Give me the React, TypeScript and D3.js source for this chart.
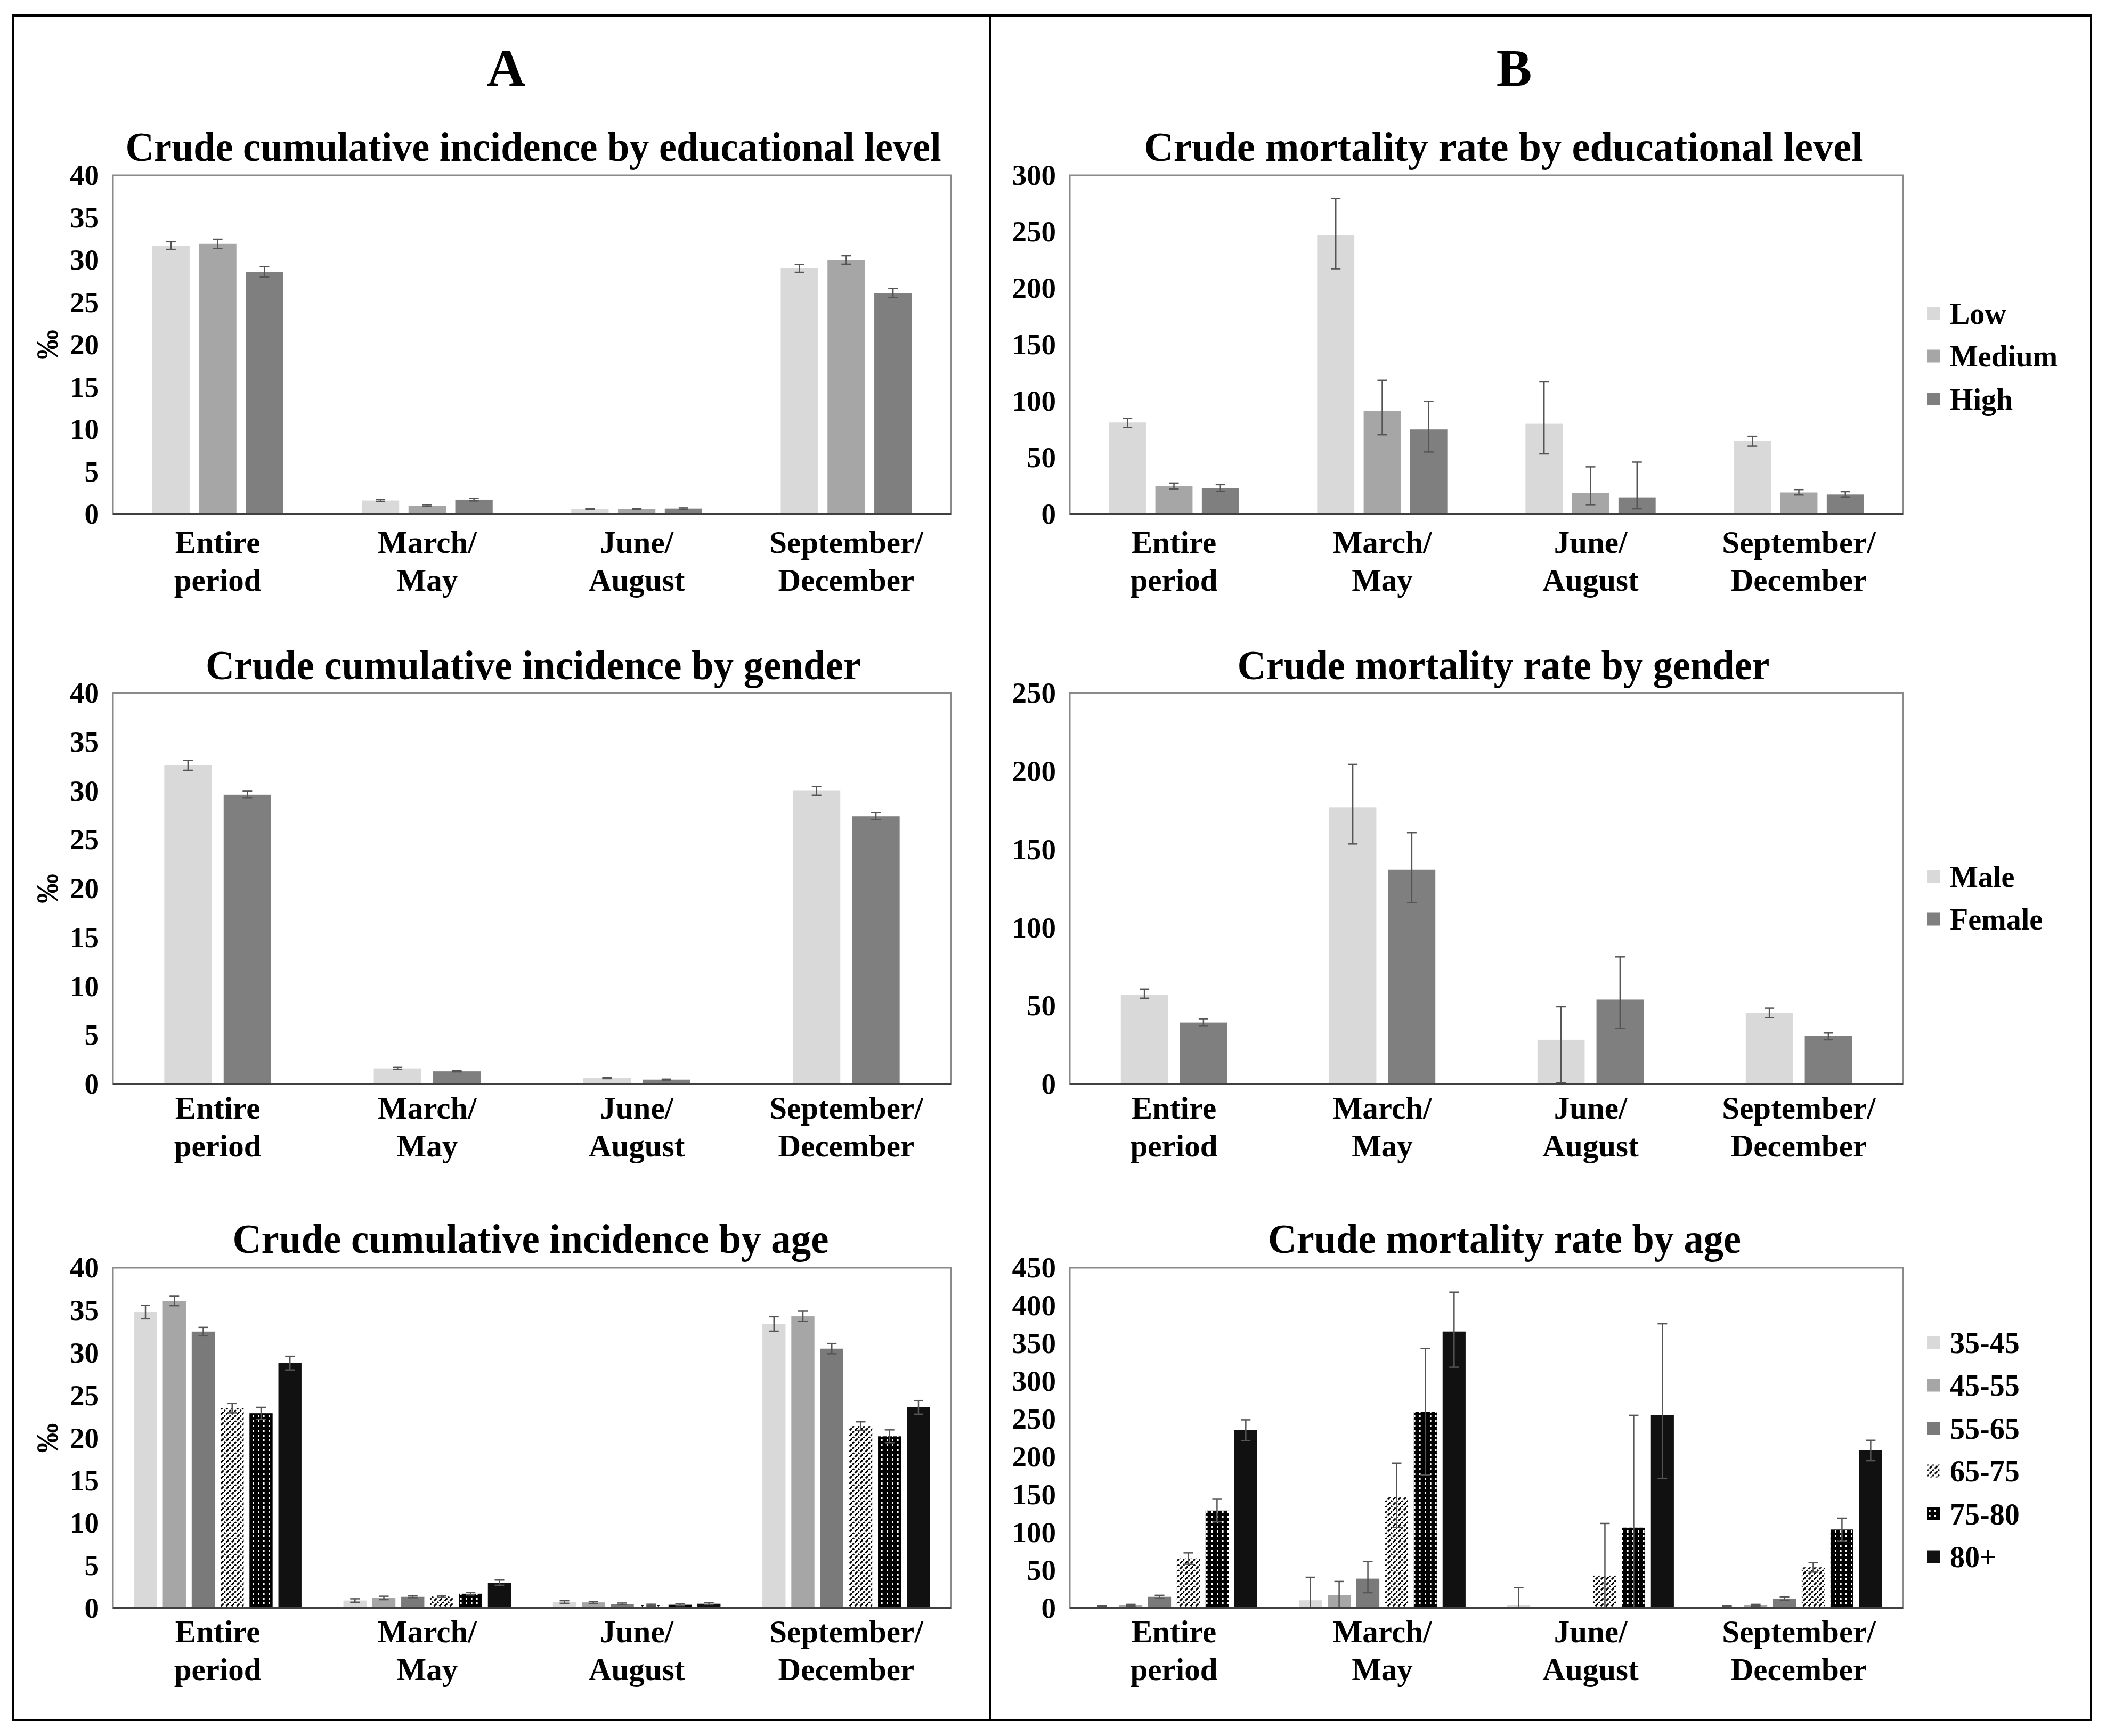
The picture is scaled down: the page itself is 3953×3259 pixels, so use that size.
import React from 'react';
import * as d3 from 'd3';

// x categories, two text lines each
const periods = [
  ['Entire', 'period'],
  ['March/', 'May'],
  ['June/', 'August'],
  ['September/', 'December'],
];

const eduLevels = ['Low', 'Medium', 'High'];
const genders = ['Male', 'Female'];
const ageGroups = ['35-45', '45-55', '55-65', '65-75', '75-80', '80+'];

// A: crude cumulative incidence (‰), symmetric error
const incEduValues = [
  [31.7, 1.6, 0.6, 29.0],
  [31.9, 1.0, 0.6, 30.0],
  [28.6, 1.7, 0.65, 26.1],
];
const incEduErr = [
  [0.45, 0.1, 0.05, 0.45],
  [0.55, 0.1, 0.05, 0.5],
  [0.6, 0.15, 0.08, 0.55],
];

const incGenderValues = [
  [32.6, 1.6, 0.6, 30.0],
  [29.6, 1.3, 0.45, 27.4],
];
const incGenderErr = [
  [0.5, 0.1, 0.05, 0.45],
  [0.35, 0.05, 0.05, 0.35],
];

const incAgeValues = [
  [34.8, 0.9, 0.72, 33.4],
  [36.1, 1.2, 0.68, 34.3],
  [32.5, 1.33, 0.5, 30.5],
  [23.5, 1.37, 0.36, 21.4],
  [22.9, 1.7, 0.4, 20.2],
  [28.8, 3.0, 0.52, 23.6],
];
const incAgeErr = [
  [0.8, 0.2, 0.15, 0.85],
  [0.55, 0.2, 0.12, 0.6],
  [0.5, 0.1, 0.1, 0.6],
  [0.55, 0.1, 0.1, 0.5],
  [0.7, 0.15, 0.1, 0.75],
  [0.8, 0.3, 0.12, 0.8],
];

// B: crude mortality rate, lower / upper error limits
const mortEduValues = [
  [81, 246.7, 79.9, 64.8],
  [24.8, 91.5, 18.7, 19.1],
  [23, 74.9, 14.8, 17.3],
];
const mortEduLow = [
  [76.7, 217.2, 53.3, 60.1],
  [22.3, 70.2, 8.3, 16.9],
  [20.2, 55, 4.7, 14.8],
];
const mortEduHigh = [
  [84.6, 279.5, 117, 68.8],
  [27.4, 118.5, 41.8, 21.6],
  [26, 99.7, 46, 19.8],
];

const mortGenderValues = [
  [57, 177, 28.3, 45.3],
  [39.3, 137, 54, 30.7],
];
const mortGenderLow = [
  [54.9, 153.5, 0.7, 42.5],
  [37, 116, 35.5, 28.3],
];
const mortGenderHigh = [
  [60.7, 204.4, 49.4, 48.5],
  [41.7, 160.7, 81.3, 32.6],
];

const mortAgeValues = [
  [2, 10.4, 3.6, 2],
  [4, 17.2, 0, 4],
  [15, 39, 0, 12.7],
  [65.7, 146.4, 43, 54],
  [129, 259.7, 106.5, 104],
  [235.6, 365.7, 255, 209],
];
const mortAgeLow = [
  [1, 0, 0, 1],
  [3, 0, 0, 3],
  [13, 20.4, 0, 10.5],
  [58, 106.5, 0, 47.6],
  [114, 176, 0, 89],
  [221.6, 318.6, 171.7, 195],
];
const mortAgeHigh = [
  [3, 40.8, 27.2, 3],
  [5, 35.3, 0, 5],
  [17, 61.6, 0, 15],
  [73, 191.7, 112, 60],
  [144, 343.5, 255, 119],
  [249, 417.8, 376, 222],
];

const FONT = '"Liberation Serif", "Times New Roman", serif';

const fills2 = ['#d9d9d9', '#7f7f7f'];
const fills3 = ['#d9d9d9', '#a6a6a6', '#7f7f7f'];
const fills6 = ['#d9d9d9', '#a6a6a6', '#7a7a7a', 'url(#diag)', 'url(#grid)', '#111111'];

// share of the group band taken by a cluster of n bars
const spanFrac: Record<number, number> = { 2: 0.51, 3: 0.625, 6: 0.8 };

interface Series {
  name: string;
  fill: string;
  values: number[];
  lo: number[];
  hi: number[];
}

interface PanelProps {
  left: number;
  right: number;
  top: number;
  bottom: number;
  yMax: number;
  step: number;
  title: string;
  titleX: number;
  titleY: number;
  titleLen: number;
  labelDy: number;
  series: Series[];
  permille?: boolean;
  legendY?: number;
}

const symmetric = (names: string[], fills: string[], vals: number[][], err: number[][]): Series[] =>
  names.map((name, i) => ({
    name,
    fill: fills[i],
    values: vals[i],
    lo: vals[i].map((v, j) => v - err[i][j]),
    hi: vals[i].map((v, j) => v + err[i][j]),
  }));

const limits = (names: string[], fills: string[], vals: number[][], lo: number[][], hi: number[][]): Series[] =>
  names.map((name, i) => ({ name, fill: fills[i], values: vals[i], lo: lo[i], hi: hi[i] }));

const Panel: React.FC<PanelProps> = (p) => {
  const x = d3.scaleBand<number>().domain(d3.range(periods.length)).range([p.left, p.right]);
  const n = p.series.length;
  const span = x.bandwidth() * spanFrac[n];
  const xi = d3.scaleBand<number>().domain(d3.range(n)).range([-span / 2, span / 2]).paddingInner(0.2);
  const y = d3.scaleLinear().domain([0, p.yMax]).range([p.bottom, p.top]);
  const ticks = d3.range(0, p.yMax + p.step / 2, p.step);
  const cap = 9;

  return (
    <g fontFamily={FONT} fontWeight="bold">
      <text x={p.titleX} y={p.titleY} fontSize={78} textAnchor="middle"
        textLength={p.titleLen} lengthAdjust="spacingAndGlyphs">{p.title}</text>

      <rect x={p.left} y={p.top} width={p.right - p.left} height={p.bottom - p.top}
        fill="#fff" stroke="#8a8a8a" strokeWidth={3} />

      {p.series.map((s, si) => (
        <g key={s.name}>
          {s.values.map((v, ci) => (
            <rect key={ci} x={x(ci)! + x.bandwidth() / 2 + xi(si)!} y={y(v)}
              width={xi.bandwidth()} height={y(0) - y(v)} fill={s.fill} />
          ))}
        </g>
      ))}

      {p.series.map((s, si) => (
        <g key={s.name} stroke="#555" strokeWidth={2.5}>
          {s.values.map((v, ci) => {
            if (s.hi[ci] === s.lo[ci]) return null;
            const cx = x(ci)! + x.bandwidth() / 2 + xi(si)! + xi.bandwidth() / 2;
            return (
              <g key={ci}>
                <line x1={cx} x2={cx} y1={y(s.hi[ci])} y2={y(s.lo[ci])} />
                <line x1={cx - cap} x2={cx + cap} y1={y(s.hi[ci])} y2={y(s.hi[ci])} />
                <line x1={cx - cap} x2={cx + cap} y1={y(s.lo[ci])} y2={y(s.lo[ci])} />
              </g>
            );
          })}
        </g>
      ))}

      <line x1={p.left} x2={p.right} y1={y(0)} y2={y(0)} stroke="#404040" strokeWidth={4} />

      {ticks.map((t) => (
        <text key={t} x={p.left - 26} y={y(t)} dy="0.33em" fontSize={55} textAnchor="end">{t}</text>
      ))}

      {periods.map((lines, ci) => (
        <text key={ci} x={x(ci)! + x.bandwidth() / 2} y={p.bottom + p.labelDy} fontSize={59} textAnchor="middle">
          <tspan x={x(ci)! + x.bandwidth() / 2}>{lines[0]}</tspan>
          <tspan x={x(ci)! + x.bandwidth() / 2} dy={71}>{lines[1]}</tspan>
        </text>
      ))}

      {p.permille && (
        <text transform={`translate(${p.left - 122},${(p.top + p.bottom) / 2}) rotate(-90)`}
          fontSize={56} textAnchor="middle" dy="0.33em">‰</text>
      )}

      {p.legendY !== undefined && p.series.map((s, si) => (
        <g key={s.name} transform={`translate(${p.right + 45},${p.legendY! + si * 80.5})`}>
          <rect x={0} y={-12} width={25} height={24} fill={s.fill} />
          <text x={43} y={0} dy="0.35em" fontSize={56}>{s.name}</text>
        </g>
      ))}
    </g>
  );
};

const App: React.FC = () => {
  const W = 3953;
  const H = 3259;
  const colA = { left: 212, right: 1785, titleX: 1001 };
  const colB = { left: 2008, right: 3572, titleX: 2822 };
  const rows = [
    { top: 329, bottom: 965, titleY: 302, labelDy: 73 },
    { top: 1301, bottom: 2035, titleY: 1275, labelDy: 65 },
    { top: 2380, bottom: 3019, titleY: 2352, labelDy: 64 },
  ];

  return (
    <svg width={W} height={H} viewBox={`0 0 ${W} ${H}`}
      style={{ position: 'absolute', left: 0, top: 0, background: '#fff', display: 'block' }}>
      <defs>
        <pattern id="diag" width={10} height={10} patternUnits="userSpaceOnUse">
          <rect width={10} height={10} fill="#fff" />
          <path d="M-2,12 L12,-2" stroke="#000" strokeWidth={3.2} strokeDasharray="7 2.5" />
        </pattern>
        <pattern id="grid" width={10} height={9} patternUnits="userSpaceOnUse">
          <rect width={10} height={9} fill="#000" />
          <rect x={4} y={2} width={2.6} height={4} fill="#fff" />
        </pattern>
      </defs>

      <rect x={25} y={29} width={3900} height={3200} fill="none" stroke="#000" strokeWidth={4} />
      <line x1={1858} x2={1858} y1={29} y2={3229} stroke="#000" strokeWidth={4} />

      <text x={950} y={161} fontFamily={FONT} fontWeight="bold" fontSize={100} textAnchor="middle">A</text>
      <text x={2842} y={161} fontFamily={FONT} fontWeight="bold" fontSize={100} textAnchor="middle">B</text>

      <Panel {...colA} {...rows[0]} yMax={40} step={5} permille titleLen={1531}
        title="Crude cumulative incidence by educational level"
        series={symmetric(eduLevels, fills3, incEduValues, incEduErr)} />
      <Panel {...colA} {...rows[1]} yMax={40} step={5} permille titleLen={1230}
        title="Crude cumulative incidence by gender"
        series={symmetric(genders, fills2, incGenderValues, incGenderErr)} />
      <Panel {...colA} {...rows[2]} yMax={40} step={5} permille titleLen={1119} titleX={996}
        title="Crude cumulative incidence by age"
        series={symmetric(ageGroups, fills6, incAgeValues, incAgeErr)} />

      <Panel {...colB} {...rows[0]} yMax={300} step={50} titleLen={1349} legendY={588}
        title="Crude mortality rate by educational level"
        series={limits(eduLevels, fills3, mortEduValues, mortEduLow, mortEduHigh)} />
      <Panel {...colB} {...rows[1]} yMax={250} step={50} titleLen={999} legendY={1645}
        title="Crude mortality rate by gender"
        series={limits(genders, fills2, mortGenderValues, mortGenderLow, mortGenderHigh)} />
      <Panel {...colB} {...rows[2]} yMax={450} step={50} titleLen={888} titleX={2824} legendY={2520}
        title="Crude mortality rate by age"
        series={limits(ageGroups, fills6, mortAgeValues, mortAgeLow, mortAgeHigh)} />
    </svg>
  );
};

export default App;
